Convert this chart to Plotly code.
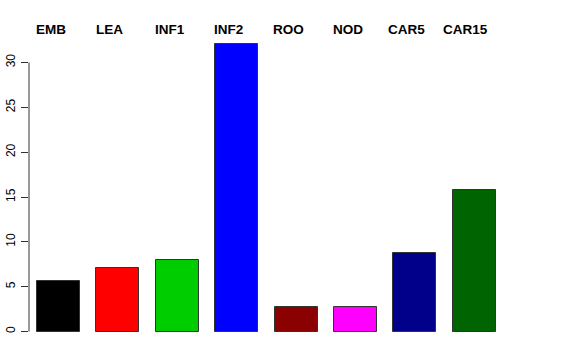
import plotly.graph_objects as go

categories = ["EMB", "LEA", "INF1", "INF2", "ROO", "NOD", "CAR5", "CAR15"]
values = [5.6, 7.05, 8.0, 32.1, 2.7, 2.7, 8.75, 15.75]
colors = ["#000000", "#FF0000", "#00CD00", "#0000FF", "#8B0000", "#FF00FF", "#00008B", "#006400"]
label_px = [35, 95, 154, 213, 272, 332, 387, 442]
yticks = [0, 5, 10, 15, 20, 25, 30]

xpos = list(range(len(categories)))

W, H = 576, 360
ml, mr, mt, mb = 29, 63, 32, 17
unit = 59.4
x0 = -(58.5 - ml) / unit
x1 = x0 + (W - ml - mr) / unit

fig = go.Figure()
fig.add_trace(go.Bar(
    x=xpos, y=values, width=43 / unit,
    marker=dict(color=colors, line=dict(color="#333333", width=1)),
    hoverinfo="skip", showlegend=False,
))

pw = W - ml - mr
ph = H - mt - mb
for lab, px in zip(categories, label_px):
    fig.add_annotation(
        x=(px - ml) / pw, xref="paper", xanchor="left",
        y=(H - mb - 29) / ph, yref="paper", yanchor="middle",
        text=f"<b>{lab}</b>", showarrow=False, borderpad=0,
        font=dict(family="Liberation Sans, Arial, sans-serif", size=13.5, color="black"),
    )

fig.add_shape(type="line", xref="paper", yref="y", x0=0, x1=0, y0=0, y1=30,
              line=dict(color="#333333", width=1))

fig.update_layout(
    width=W, height=H,
    margin=dict(l=ml, r=mr, t=mt, b=mb, autoexpand=False),
    plot_bgcolor="white", paper_bgcolor="white",
    xaxis=dict(range=[x0, x1], visible=False, fixedrange=True),
    yaxis=dict(range=[-1.28, 33.4], tickvals=yticks, ticktext=[str(v) for v in yticks],
               ticks="outside", ticklen=7, tickcolor="#333333", tickangle=-90,
               showgrid=False, zeroline=False, showline=False, automargin=False,
               ticklabelstandoff=1,
               tickfont=dict(family="Liberation Sans, Arial, sans-serif", size=12, color="black")),
    bargap=0,
)

fig.write_html("out.html")
